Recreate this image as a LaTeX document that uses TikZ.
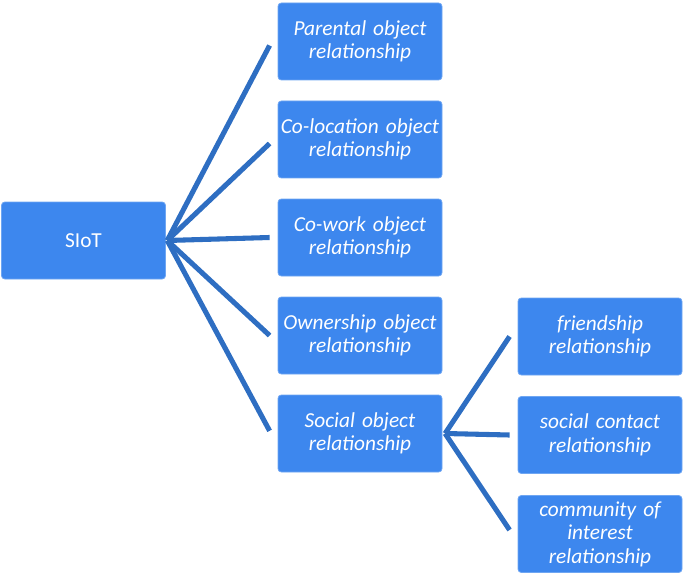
\documentclass[tikz,border=0pt]{standalone}
\usepackage{fontspec}
\setmainfont{Carlito}
\usepackage{xcolor}
\usepackage{tikz}
\usetikzlibrary{positioning}
\definecolor{boxblue}{HTML}{3D87EE}
\definecolor{boxedge}{HTML}{6FA6F2}
\definecolor{linkblue}{HTML}{2E6EC2}

\begin{document}
\begin{tikzpicture}[
  x=0.75pt, y=-0.75pt,
  box/.style={
    draw=boxedge, line width=0.6pt, rounded corners=2.5pt,
    fill=boxblue, text=white, inner sep=0pt,
    minimum width=123pt, minimum height=57.75pt,
    text centered, text width=123pt,
    font=\fontsize{16}{17.6}\selectfont\itshape
  },
  link/.style={draw=linkblue, line width=3.8pt}
]
\useasboundingbox (0,0) rectangle (685,574);

% ── Root ──────────────────────────────────────────────────────────────────
\node[box, font=\fontsize{16}{17.6}\selectfont] (siot) at (83.5,240.5) {SIoT};

% ── Column 1: object relationships ────────────────────────────────────────
\node[box] (parental)  at (360,41.5)  {Parental object\\relationship};
\node[box] (colocation) at (360,139.5) {Co-location object\\relationship};
\node[box] (cowork)    at (360,237.5) {Co-work object\\relationship};
\node[box] (ownership) at (360,335.5) {Ownership object\\relationship};
\node[box] (social)    at (360,433.5) {Social object\\relationship};

% ── Column 2: social sub-relationships ────────────────────────────────────
\node[box] (friendship) at (600,336.5) {friendship\\relationship};
\node[box] (contact)    at (600,435)   {social contact\\relationship};
\node[box] (community)  at (600,534)   {community of\\interest\\relationship};

% ── Links: SIoT to object relationships ───────────────────────────────────
\coordinate (hub) at ([xshift=1pt]siot.east);
\draw[link] (hub) -- ([xshift=-6pt,yshift=-3pt]parental.west);
\draw[link] (hub) -- ([xshift=-6pt,yshift=-3pt]colocation.west);
\draw[link] (hub) -- ([xshift=-6pt]cowork.west);
\draw[link] (hub) -- ([xshift=-6pt]ownership.west);
\draw[link] (hub) -- ([xshift=-6pt,yshift=2pt]social.west);

% ── Links: social object to sub-relationships ─────────────────────────────
\coordinate (subhub) at ([xshift=2pt]social.east);
\draw[link] (subhub) -- ([xshift=-6pt]friendship.west);
\draw[link] (subhub) -- ([xshift=-6pt]contact.west);
\draw[link] (subhub) -- ([xshift=-6pt,yshift=3pt]community.west);

\end{tikzpicture}
\end{document}
